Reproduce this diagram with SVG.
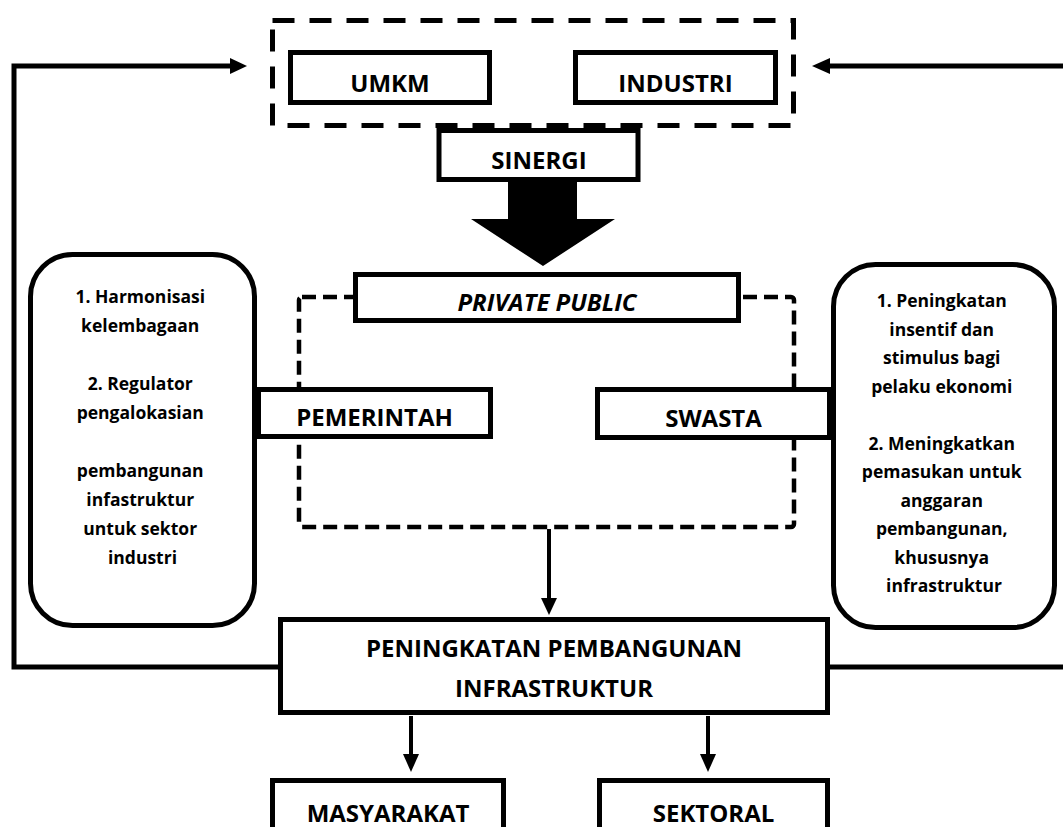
<svg xmlns="http://www.w3.org/2000/svg" width="1063" height="827" viewBox="0 0 1063 827">
<style>
.box{fill:#fff;stroke:#000;stroke-width:5}
.dash1{fill:none;stroke:#000;stroke-width:5;stroke-dasharray:22 15}
.dash2{fill:none;stroke:#000;stroke-width:4.5;stroke-dasharray:14 7}
.ln{fill:none;stroke:#000;stroke-width:5}
.ln2{fill:none;stroke:#000;stroke-width:4}
.lbl{font-family:"Open Sans","Liberation Sans",sans-serif;font-weight:bold;font-size:24px;text-anchor:middle;fill:#000}
.sm{font-family:"Open Sans","Liberation Sans",sans-serif;font-weight:bold;font-size:17.5px;text-anchor:middle;fill:#000}
</style>
<rect width="1063" height="827" fill="#fff"/>
<g id="groups">
<rect class="dash1" x="272.5" y="20.5" width="521" height="105"/>
<rect class="dash2" x="299" y="297" width="495" height="230" rx="3"/>
</g>
<g id="connectors">
<polyline class="ln" points="278,667 14,667 14,66 232,66"/>
<polygon points="230,58 247,66 230,74"/>
<polyline class="ln" points="1063,66 828,66"/>
<polygon points="830,58 812,66 830,74"/>
<line class="ln" x1="830" y1="667" x2="1063" y2="667"/>
<polygon points="508,182 577,182 577,219 615,219 543,266 471,219 508,219"/>
<line class="ln2" x1="549" y1="529" x2="549" y2="600"/>
<polygon points="541,598 557,598 549,615"/>
<line class="ln2" x1="411" y1="716" x2="411" y2="756"/>
<polygon points="403,754 419,754 411,772"/>
<line class="ln2" x1="708" y1="716" x2="708" y2="756"/>
<polygon points="700,754 716,754 708,772"/>
</g>
<g id="umkm">
<rect class="box" x="290.5" y="52.5" width="199" height="50"/>
<text class="lbl" x="390" y="92">UMKM</text>
</g>
<g id="industri">
<rect class="box" x="575.5" y="52.5" width="200" height="50"/>
<text class="lbl" x="675.5" y="92">INDUSTRI</text>
</g>
<g id="sinergi">
<rect class="box" x="439" y="130.5" width="199" height="49"/>
<text class="lbl" x="539" y="169">SINERGI</text>
</g>
<g id="private-public">
<rect class="box" x="355.5" y="274.5" width="383" height="46"/>
<text class="lbl" x="547" y="311" font-style="italic">PRIVATE PUBLIC</text>
</g>
<g id="left-notes">
<rect class="box" x="30.5" y="254.5" width="224" height="371" rx="42"/>
<text class="sm">
<tspan x="142.5" y="303">1. Harmonisasi</tspan>
<tspan x="142.5" y="332">kelembagaan</tspan>
<tspan x="142.5" y="390">2. Regulator</tspan>
<tspan x="142.5" y="419">pengalokasian</tspan>
<tspan x="142.5" y="477">pembangunan</tspan>
<tspan x="142.5" y="506">infastruktur</tspan>
<tspan x="142.5" y="535">untuk sektor</tspan>
<tspan x="142.5" y="564">industri</tspan>
</text>
</g>
<g id="right-notes">
<rect class="box" x="833.5" y="264.5" width="221" height="363" rx="42"/>
<text class="sm">
<tspan x="944" y="307">1. Peningkatan</tspan>
<tspan x="944" y="336">insentif dan</tspan>
<tspan x="944" y="364">stimulus bagi</tspan>
<tspan x="944" y="393">pelaku ekonomi</tspan>
<tspan x="944" y="450">2. Meningkatkan</tspan>
<tspan x="944" y="478">pemasukan untuk</tspan>
<tspan x="944" y="507">anggaran</tspan>
<tspan x="944" y="535">pembangunan,</tspan>
<tspan x="944" y="564">khususnya</tspan>
<tspan x="944" y="592">infrastruktur</tspan>
</text>
</g>
<g id="pemerintah">
<rect class="box" x="258.5" y="389.5" width="232" height="47"/>
<text class="lbl" x="374.5" y="426">PEMERINTAH</text>
</g>
<g id="swasta">
<rect class="box" x="597.5" y="389.5" width="232" height="48"/>
<text class="lbl" x="713.5" y="427">SWASTA</text>
</g>
<g id="peningkatan">
<rect class="box" x="280.5" y="619.5" width="547" height="93"/>
<text class="lbl" x="554" y="657">PENINGKATAN PEMBANGUNAN</text>
<text class="lbl" x="554" y="697">INFRASTRUKTUR</text>
</g>
<g id="masyarakat">
<rect class="box" x="272.5" y="780.5" width="231" height="60"/>
<text class="lbl" x="388" y="822">MASYARAKAT</text>
</g>
<g id="sektoral">
<rect class="box" x="599.5" y="780.5" width="228" height="60"/>
<text class="lbl" x="713.5" y="822">SEKTORAL</text>
</g>
</svg>
